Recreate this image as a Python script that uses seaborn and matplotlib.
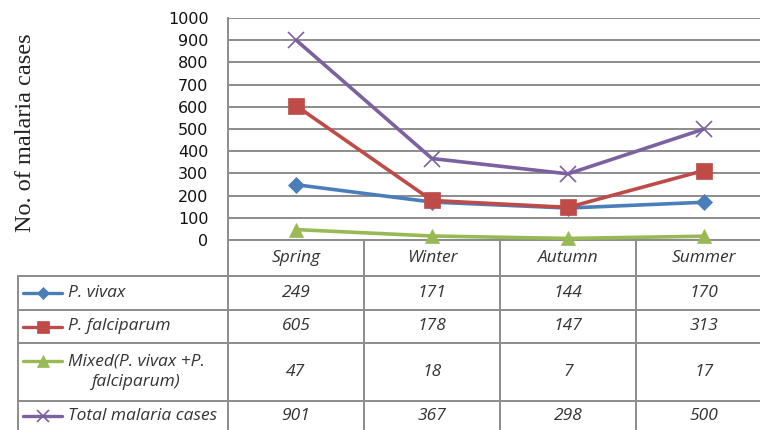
import numpy as np
import pandas as pd
import matplotlib
matplotlib.use("Agg")
import matplotlib.pyplot as plt
import seaborn as sns

# ---- data ----
seasons = ["Spring", "Winter", "Autumn", "Summer"]
series_names = ["P. vivax", "P. falciparum", "Mixed(P. vivax +P.\nfalciparum)", "Total malaria cases"]
p_vivax = [249, 171, 144, 170]
p_falciparum = [605, 178, 147, 313]
mixed = [47, 18, 7, 17]
total = [901, 367, 298, 500]
yticks = list(range(0, 1001, 100))

sns.set_theme(style="white")
plt.rcParams["font.family"] = ["DejaVu Sans"]

W, H = 760, 430
fig = plt.figure(figsize=(W / 100, H / 100), dpi=100)
fig.patch.set_facecolor("white")

ax = fig.add_axes([228 / W, 1 - 240 / H, (W - 228) / W, 222 / H])
ax.set_facecolor("none")

colors = ["#4A7EBB", "#BE4B48", "#98B954", "#7D60A0"]
markers = ["D", "s", "^", "x"]
msizes = [8, 11, 10, 11]
values = [p_vivax, p_falciparum, mixed, total]
grid_c = "#8C8C8C"

for name, vals, c, m, ms in zip(series_names, values, colors, markers, msizes):
    df = pd.DataFrame({"season": seasons, "cases": vals})
    sns.lineplot(data=df, x="season", y="cases", ax=ax, color=c, marker=m,
                 markersize=ms, markeredgecolor=c, markeredgewidth=1.2 if m == "x" else 0.5,
                 lw=2.6, sort=False, clip_on=False, zorder=5)

ax.set_xlim(-0.5, -0.5 + (W - 228) / 136)
ax.set_ylim(0, 1000)
ax.set_yticks(yticks)
ax.set_yticklabels([str(t) for t in yticks], fontsize=11.5, color="#111111")
ax.set_xticks([])
ax.set_xlabel("")
ax.set_ylabel("")
ax.tick_params(axis="y", length=0, pad=14)
ax.grid(axis="y", color=grid_c, lw=1.4)
ax.grid(axis="x", visible=False)
for s in ["top", "right"]:
    ax.spines[s].set_visible(False)
for s in ["left", "bottom"]:
    ax.spines[s].set_color(grid_c)
    ax.spines[s].set_linewidth(1.4)

fig.text(26 / W, 1 - 133 / H, "No. of malaria cases", rotation=90, family="Liberation Serif",
         fontsize=17.5, va="center", ha="center", color="#222222")

# ---- data table beneath ----
tax = fig.add_axes([0, 0, 1, 1], zorder=-1)
tax.set_xlim(0, W)
tax.set_ylim(H, 0)
tax.axis("off")

col_edges = [ax.transData.transform((i - 0.5, 0))[0] for i in range(len(seasons) + 1)]
col_centers = [ax.transData.transform((i, 0))[0] for i in range(len(seasons))]
row_edges = [240, 276, 310, 343, 401, 440]
row_centers = [(row_edges[i + 1] + row_edges[i]) / 2 for i in range(len(row_edges) - 1)]
row_centers[-1] = 416

tfont = dict(family="Open Sans", style="italic", fontsize=12.5, color="#333333")
for x in col_edges[:-1]:
    tax.plot([x, x], [240, H + 5], color=grid_c, lw=1.4, clip_on=False)
tax.plot([18, 18], [276, H + 5], color=grid_c, lw=1.4, clip_on=False)
for y in row_edges[1:5]:
    tax.plot([18, W], [y, y], color=grid_c, lw=1.4)

for xc, s in zip(col_centers, seasons):
    tax.text(xc, row_centers[0], s, ha="center", va="center", **tfont)

for r, (name, vals, c, m, ms) in enumerate(zip(series_names, values, colors, markers, msizes)):
    yc = row_centers[r + 1] if r < 3 else 416
    ly = yc - 11 if r == 2 else yc
    tax.plot([23, 62], [ly, ly], color=c, lw=2.4)
    tax.plot([42.5], [ly], marker=m, color=c, markersize=ms * 0.8, markeredgecolor=c,
             markeredgewidth=1.2 if m == "x" else 0.5)
    tax.text(68, yc, name, ha="left", va="center", multialignment="center",
             linespacing=1.35, **tfont)
    for xc, v in zip(col_centers, vals):
        tax.text(xc, yc, str(v), ha="center", va="center", **tfont)

fig.savefig("out.png", dpi=100)
